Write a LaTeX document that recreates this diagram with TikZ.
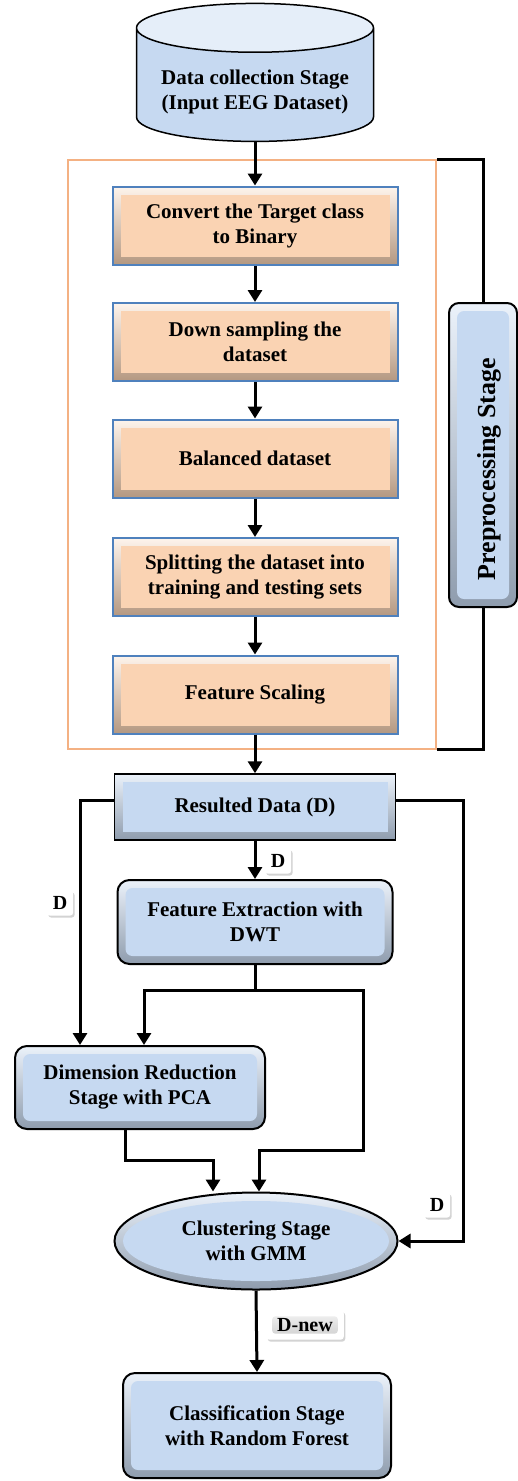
\documentclass[tikz,border=0pt]{standalone}
\usepackage{fontspec}
\setmainfont{Liberation Serif}
\usetikzlibrary{positioning,calc,arrows.meta,shapes.geometric,shadows}

\definecolor{peach}{HTML}{FAD3B3}
\definecolor{peachborder}{HTML}{4F81BD}
\definecolor{frameorange}{HTML}{F4B183}
\definecolor{stageblue}{HTML}{C6D9F1}

\tikzset{
	>={Triangle[length=12pt,width=14pt]},
	txt/.style={font=\bfseries\fontsize{21}{25}\selectfont, align=center, inner sep=0pt},
	line/.style={line width=3pt, draw=black},
	arr/.style={line, ->},
	prepstep/.style={txt, draw=peachborder, line width=2pt,
		top color=peach!25!white, bottom color=peach!72!black,
		minimum width=285pt, minimum height=78pt,
		path picture={\fill[peach] ([shift={(8pt,-8pt)}]path picture bounding box.north west)
			rectangle ([shift={(-8pt,8pt)}]path picture bounding box.south east);}},
	squarebox/.style={txt, draw=black, line width=1.5pt,
		top color=stageblue!35!white, bottom color=stageblue!72!black,
		path picture={\fill[stageblue] ([shift={(8pt,-8pt)}]path picture bounding box.north west)
			rectangle ([shift={(-8pt,8pt)}]path picture bounding box.south east);}},
	roundbox/.style={txt, draw=black, line width=2pt, rounded corners=12pt,
		top color=stageblue!35!white, bottom color=stageblue!72!black,
		path picture={\fill[stageblue, rounded corners=7pt] ([shift={(8pt,-8pt)}]path picture bounding box.north west)
			rectangle ([shift={(-8pt,8pt)}]path picture bounding box.south east);}},
	clusbox/.style={txt, ellipse, draw=black, line width=2pt,
		top color=stageblue!35!white, bottom color=stageblue!72!black,
		minimum width=283pt, minimum height=97pt,
		path picture={\fill[stageblue] (path picture bounding box.center) ellipse [x radius=133pt, y radius=40pt];}},
	dlabel/.style={font=\bfseries\fontsize{20}{24}\selectfont, fill=white, rounded corners=3pt,
		inner xsep=6pt, inner ysep=6pt,
		drop shadow={opacity=0.35, shadow xshift=1.5pt, shadow yshift=-2pt}},
	dnewlabel/.style={dlabel, inner xsep=11pt, inner ysep=8pt,
		path picture={\shade[top color=gray!8, bottom color=gray!40] ([shift={(6pt,-6pt)}]path picture bounding box.north west)
			rectangle ([shift={(-6pt,6pt)}]path picture bounding box.south east);}},
}

\begin{document}
\begin{tikzpicture}[x=1pt, y=-1pt]
	\useasboundingbox (0,0) rectangle (518,1481);

	% preprocessing frame and side box
	\node[draw=frameorange, line width=1.5pt, minimum width=368pt, minimum height=589pt] (frame) at (252,454.5) {};
	\node[roundbox, rounded corners=10pt, minimum width=68pt, minimum height=304pt] (prep) at (483,455)
		{\fontsize{26}{30}\selectfont\rotatebox{90}{\rule{0pt}{30pt}\hspace*{-28pt}Preprocessing Stage}};

	\node[txt, cylinder, shape border rotate=90, aspect=0.26, draw=black, line width=1.5pt,
		cylinder uses custom fill, cylinder body fill=stageblue, cylinder end fill=stageblue!45!white,
		minimum width=237pt, minimum height=138pt] (data) at (255,85)
		{\begin{tabular}{@{}c@{}}\rule{0pt}{31.5pt}Data collection Stage\\(Input EEG Dataset)\end{tabular}};

	\node[prepstep] (conv) at (255,225.5) {Convert the Target class\\to Binary};
	\node[prepstep] (down) at (255,342) {Down sampling the\\dataset};
	\node[prepstep] (bal) at (255,458.5) {Balanced dataset};
	\node[prepstep] (split) at (255,577) {Splitting the dataset into\\training and testing sets};
	\node[prepstep] (scal) at (255,694.5) {Feature Scaling};

	\node[squarebox, minimum width=281pt, minimum height=66pt] (res) at (255,807) {Resulted Data (D)};
	\node[roundbox, minimum width=275pt, minimum height=84pt] (fext) at (255,922) {Feature Extraction with\\DWT};
	\node[roundbox, minimum width=250pt, minimum height=83pt] (dim) at (140,1087.5) {Dimension Reduction\\Stage with PCA};
	\node[clusbox] (clus) at (256,1241) {Clustering Stage\\with GMM};
	\node[roundbox, minimum width=268pt, minimum height=105pt] (cls) at (257,1425.5) {Classification Stage\\with Random Forest};

	% labels
	\node[dlabel] (dmid) at (278,861) {D};
	\node[dlabel] (dleft) at (60,903) {D};
	\node[dlabel] (dright) at (437,1205) {D};
	\node[dnewlabel] (dnew) at (305,1325) {D-new};

	\coordinate (lcol) at (80,800);
	\coordinate (rcol) at (463,800);
	\coordinate (fj) at (255,990);
	\coordinate (fr) at (363,1150);
	\coordinate (dj) at (213,1160);

	% flow
	\draw[arr] (data.south) -- (conv.north);
	\draw[arr] (conv.south) -- (down.north);
	\draw[arr] (down.south) -- (bal.north);
	\draw[arr] (bal.south) -- (split.north);
	\draw[arr] (split.south) -- (scal.north);
	\draw[arr] (scal.south) -- (res.north);
	\draw[line] (frame.north east) -| (prep.north);
	\draw[line] (prep.south) |- (frame.south east);

	\draw[arr] (res.south) -- (fext.north);
	\draw[line] (fext.south) -- (fj);
	\draw[arr] (fj) -| ([xshift=4pt]dim.north);
	\draw[arr] (fj) -| (fr) -| ([xshift=3pt]clus.north);
	\draw[arr] ([yshift=7pt]res.west) -| ([xshift=-60pt]dim.north);
	\draw[arr] ([yshift=7pt]res.east) -| (rcol |- clus.east) -- (clus.east);
	\draw[arr] ([xshift=-15pt]dim.south) |- (dj) -- (dj |- clus.north);
	\draw[arr] (clus.south) -- (cls.north);
\end{tikzpicture}
\end{document}
